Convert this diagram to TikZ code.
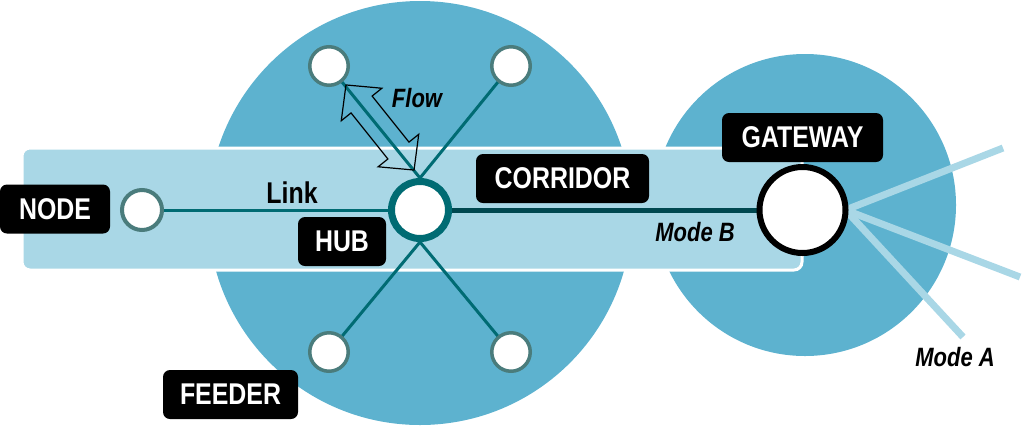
\documentclass[tikz,border=0pt]{standalone}
\usepackage{fontspec}
\newfontfamily\labfont[FakeStretch=0.83]{Liberation Sans}
\definecolor{bigblue}{HTML}{5DB2CF}
\definecolor{bandblue}{HTML}{A9D7E6}
\definecolor{teal}{HTML}{006B73}
\definecolor{darkteal}{HTML}{004850}
\definecolor{nodegray}{HTML}{4A7C7C}
\pgfdeclarelayer{bg}
\pgfdeclarelayer{lines}
\pgfsetlayers{bg,lines,main}
\tikzset{
  tag/.style={fill=black, rounded corners=7pt, text=white, inner sep=0pt,
    minimum height=49pt, font=\labfont\bfseries\fontsize{30}{34}\selectfont},
  plain/.style={inner sep=0pt, text=black, font=\labfont\bfseries\fontsize{30}{34}\selectfont},
  ital/.style={inner sep=0pt, text=black, font=\labfont\bfseries\itshape\fontsize{26.5}{30}\selectfont},
  small/.style={circle, draw=nodegray, line width=3.5pt, fill=white, minimum size=38.5pt, inner sep=0pt},
  spoke/.style={teal, line width=3pt},
  ray/.style={bandblue, line width=7pt},
}
\begin{document}
\begin{tikzpicture}[x=1pt, y=-1pt]
\useasboundingbox (0,0) rectangle (1024,432);
% background shapes
\begin{pgfonlayer}{bg}
  \fill[bigblue] (420,213) circle[radius=212];
  \fill[bigblue] (805,205) circle[radius=151];
  \filldraw[fill=bandblue, draw=white, line width=3pt, rounded corners=8pt] (22,148) rectangle (802,270);
\end{pgfonlayer}
% nodes
\node[circle, draw=teal, line width=7pt, fill=white, minimum size=57pt, inner sep=0pt] (hub) at (420,210) {};
\node[circle, draw=black, line width=6pt, fill=white, minimum size=86pt, inner sep=0pt] (gw) at (802.5,210) {};
\node[circle, draw=nodegray, line width=4pt, fill=white, minimum size=40pt, inner sep=0pt] (src) at (142,210) {};
\node[small] (tl) at (329,66) {};
\node[small] (tr) at (511,66) {};
\node[small] (bl) at (329,352) {};
\node[small] (br) at (511,352) {};
\coordinate (r1) at (1003,148);
\coordinate (r2) at (1020,277);
\coordinate (r3) at (963,337);
% connectors
\begin{pgfonlayer}{lines}
  \draw[spoke] (hub.north) -- (tl.center);
  \draw[spoke] (hub.north) -- (tr.center);
  \draw[spoke] (hub.south) -- (bl.center);
  \draw[spoke] (hub.south) -- (br.center);
  \draw[spoke] (src.center) -- (hub.center);
  \draw[darkteal, line width=5pt] (hub.center) -- (gw.center);
  \draw[ray] ([xshift=-3pt]gw.east) -- (r1);
  \draw[ray] ([xshift=-3pt]gw.east) -- (r2);
  \draw[ray] ([xshift=-3pt]gw.east) -- (r3);
  % flow double arrow
  \begin{scope}[shift={(380,127.5)}, x=1pt, y=1pt, rotate=128.66]
    \draw[black, line width=1.2pt, line join=miter]
      (54.5,0) -- (29.5,26) -- (29.5,13.5) -- (-29.5,13.5) -- (-29.5,26) -- (-54.5,0)
      -- (-29.5,-26) -- (-29.5,-13.5) -- (29.5,-13.5) -- (29.5,-26) -- cycle;
  \end{scope}
\end{pgfonlayer}
% labels
\node[tag, minimum width=110pt] (tnode) at (55,209) {NODE};
\node[tag, minimum width=88pt] (thub) at (342,241.5) {HUB};
\node[tag, minimum width=173pt] (tcor) at (562.5,178.5) {CORRIDOR};
\node[tag, minimum width=161pt] (tgw) at (802.5,137.5) {GATEWAY};
\node[tag, minimum width=135pt] (tfeed) at (230.5,394.5) {FEEDER};
\node[plain] (link) at (292,193) {Link};
\node[ital] (flow) at (417,98) {Flow};
\node[ital] (modeb) at (695,232) {Mode B};
\node[ital] (modea) at (955,357) {Mode A};
\end{tikzpicture}
\end{document}
